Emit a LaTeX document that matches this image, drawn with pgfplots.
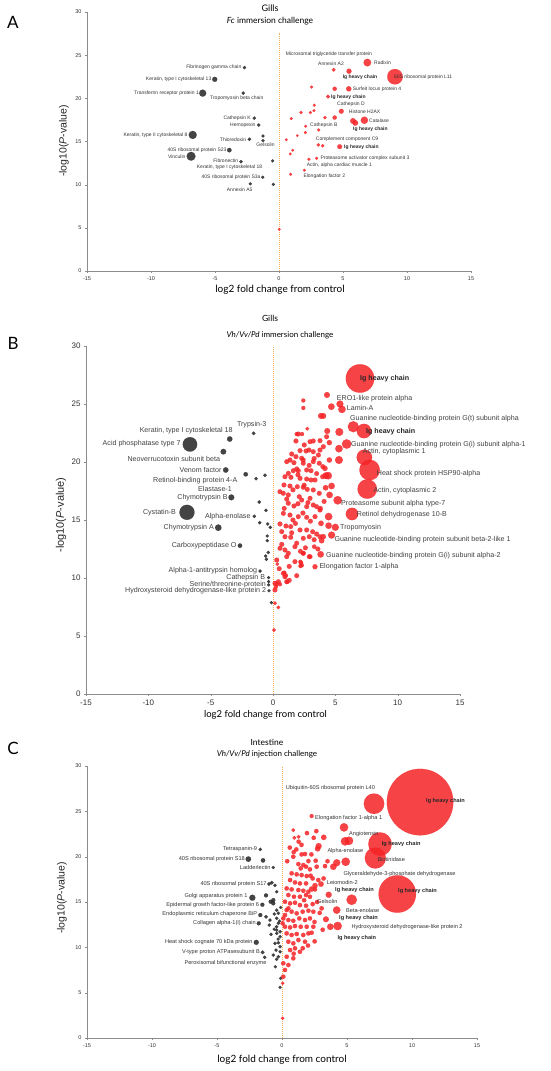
\documentclass[border=0pt]{standalone}
\usepackage{fontspec}
\setmainfont{Liberation Sans}
\newfontfamily\tf{Lato}
\usepackage{pgfplots}
\pgfplotsset{compat=1.18}
\definecolor{pred}{RGB}{244,34,38}
\definecolor{pblk}{RGB}{35,35,35}
\definecolor{dashcol}{RGB}{245,175,95}

\pgfplotsset{
  vol/.style={scale only axis, anchor=south west,
    xmin=-15, xmax=15, ymin=0, ymax=30,
    axis x line*=bottom, axis y line*=left,
    xtick={-15,-10,...,15}, ytick={0,5,...,30},
    tick align=outside, major tick length=2pt,
    axis line style={black!45, line width=0.8pt},
    tick style={black!45},
    /pgf/number format/assume math mode=true,
    tick label style={text=black!80},
    clip=false},
  bub/.style={scatter, only marks, mark=*,
    visualization depends on={\thisrow{r}\as\rr},
    scatter/@pre marker code/.code={\pgfmathsetmacro\rrr{\rr+0.2}\scope[/tikz/mark size=\rrr, /tikz/color=#1, /tikz/opacity=0.85, /tikz/line width=0.1pt]},
    scatter/@post marker code/.code={\endscope}},
}
\tikzset{
  la/.style={font=\fontsize{5}{6}\selectfont, text=black!80},
  lab/.style={font=\fontsize{5}{6}\selectfont\bfseries, text=black!85},
  lb/.style={font=\fontsize{7.1}{8}\selectfont, text=black!75},
  lbb/.style={font=\fontsize{7.1}{8}\selectfont\bfseries, text=black!85},
  lc/.style={font=\fontsize{5.6}{6.5}\selectfont, text=black!80},
  lcb/.style={font=\fontsize{5.6}{6.5}\selectfont\bfseries, text=black!85},
  dl/.style={draw=dashcol, line width=0.7pt, dash pattern=on 1.2pt off 0.8pt},
}
\newcommand\T[4][]{\node[inner sep=0pt,#1] at (#2pt,{(1071-#3)*1pt}) {#4};}

\begin{document}
\begin{tikzpicture}
\useasboundingbox (0,0) rectangle (550pt,1071pt);

% ---------------- A ----------------
\begin{axis}[vol, at={(87pt,800pt)}, width=384pt, height=259pt,
  tick label style={font=\fontsize{5.5}{6}\selectfont}]
\draw[dl] (axis cs:0,0) -- (axis cs:0,27.6);
\addplot[bub=pblk] table[row sep=\\]{x y r\\
-2.7 23.56 1.5\\ -5.02 22.2 2.3\\ -5.96 20.6 3.3\\ -2.79 20.6 1.5\\ -1.93 17.7 1.5\\
-1.59 16.9 1.5\\ -6.74 15.76 3.8\\ -2.32 15.26 1.5\\ -1.25 15.64 1.4\\ -1.25 15.1 1.4\\
-3.88 14.0 2.0\\ -6.87 13.29 4.2\\ -2.97 12.67 1.5\\ -0.5 12.75 1.4\\ -1.27 10.85 1.4\\
-2.24 10.1 1.4\\ -0.44 10.04 1.4\\
};
\addplot[bub=pred] table[row sep=\\]{x y r\\
6.9 24.14 3.6\\ 4.27 23.3 1.7\\ 5.47 23.14 2.3\\ 9.06 22.5 7.5\\ 2.55 21.3 1.3\\
4.35 21.1 1.9\\ 5.45 21.1 2.4\\ 3.83 20.2 1.7\\ 2.76 19.2 1.3\\ 4.87 18.5 2.2\\
1.72 18.35 1.4\\ 2.73 18.57 1.3\\ 2.45 18.35 1.3\\ 0.96 17.65 1.3\\ 3.59 17.77 1.5\\
4.35 17.77 1.9\\ 5.78 17.38 2.6\\ 5.96 17.15 2.6\\ 6.67 17.46 3.4\\ 2.08 16.77 1.3\\
3.1 16.34 1.4\\ 2.06 16.03 1.3\\ 0.57 15.2 1.2\\ 1.43 15.68 1.1\\ 3.07 14.6 1.5\\
3.41 14.5 1.5\\ 4.74 14.4 2.2\\ 1.07 13.98 1.2\\ 0.88 13.56 1.2\\ 2.34 12.94 1.3\\
2.94 13.05 1.3\\ 1.98 11.67 1.3\\ 0.91 11.2 1.3\\ 0.02 4.83 1.2\\
};
\end{axis}

% ---------------- B ----------------
\begin{axis}[vol, at={(86pt,377pt)}, width=374pt, height=348pt,
  tick label style={font=\fontsize{8}{9}\selectfont}]
\draw[dl] (axis cs:0,0) -- (axis cs:0,30);
\addplot[bub=pblk] table[row sep=\\]{x y r\\
-1.55 22.47 1.6\\ -3.47 21.98 2.5\\ -6.66 21.52 7\\ -3.98 20.89 2.6\\ -3.79 19.31 2.5\\
-2.19 18.94 2\\ -0.64 18.85 1.6\\ -1.36 18.56 1.5\\ -3.34 16.95 2.7\\ -1.1 16.55 1.6\\
-6.9 15.66 7.3\\ -0.56 15.83 1.5\\ -1.5 15.32 1.5\\ -4.39 14.34 3\\ -1.07 14.77 1.5\\
-0.43 14.66 1.5\\ -0.22 14.37 1.5\\ -0.46 13.62 1.4\\ -0.46 13.22 1.4\\ -2.65 12.79 2\\
-0.38 12.2 1.5\\ -0.59 11.9 1.5\\ -0.53 11.61 1.5\\ -1.04 10.6 1.5\\ -0.35 10.03 1.4\\
-0.35 9.68 1.4\\ -0.35 9.4 1.4\\ -0.32 8.9 1.4\\ -0.13 7.87 1.4\\
};
\addplot[bub=pred] table[row sep=\\]{x y r\\
2.03 22.41 2.2\\ 1.84 21.81 2.2\\ 2.97 21.75 2.2\\ 3.23 21.81 2.2\\ 3.77 21.84 2.2\\
2.51 21.47 2.2\\ 2.89 21.03 2.2\\ 2.17 20.98 2.2\\ 2.65 20.95 2.2\\ 3.23 20.89 2.2\\
3.77 21.03 2.2\\ 4.04 21.32 2.2\\ 4.52 21.67 2.4\\ 1.5 20.69 2.2\\ 1.84 20.46 2.2\\
2.3 20.32 2.2\\ 3.64 20.6 2.2\\ 1.36 20.17 2.2\\ 1.1 20.03 2.2\\ 1.68 19.94 2.2\\
2.43 19.89 2.2\\ 3.23 20.03 2.2\\ 3.71 19.89 2.2\\ 4.52 20.17 2.4\\ 4.17 19.45 2.4\\
1.63 19.25 2.2\\ 2.03 19.25 2.2\\ 2.7 19.31 2.2\\ 3.05 19.25 2.2\\ 1.23 19.02 2.2\\
0.96 18.73 2.2\\ 1.44 18.68 2.2\\ 2.17 18.59 2.2\\ 2.7 18.53 2.2\\ 3.05 18.45 2.2\\
3.37 18.45 2.2\\ 3.98 18.73 2.2\\ 0.88 18.02 2.2\\ 1.36 17.93 2.2\\ 1.95 17.87 2.2\\
2.43 17.82 2.2\\ 2.75 17.64 2.2\\ 3.23 17.59 2.2\\ 3.71 17.3 2.2\\ 0.56 17.44 2.2\\
0.83 17.3 2.2\\ 1.23 17.16 2.2\\ 2.11 17.01 2.2\\ 2.3 16.72 2.2\\ 2.97 16.87 2.2\\
3.23 16.29 2.2\\ 1.23 16.44 2.2\\ 1.68 16.21 2.2\\ 2.7 16.15 2.2\\ 3.5 16.15 2.2\\
3.77 15.86 2.2\\ 0.83 15.57 2.2\\ 1.36 15.43 2.2\\ 2.03 15.29 2.2\\ 2.7 15.23 2.2\\
3.37 15.29 2.2\\ 0.56 14.66 2.2\\ 1.04 14.48 2.2\\ 1.42 14.43 2.2\\ 2.17 14.14 2.2\\
2.7 14.14 2.2\\ 3.18 13.99 2.2\\ 3.5 13.79 2.2\\ 0.96 13.56 2.2\\ 1.42 13.51 2.2\\
2.43 13.42 2.2\\ 2.91 13.56 2.2\\ 3.77 13.56 2.2\\ 0.56 12.56 2.2\\ 0.96 12.41 2.2\\
1.76 12.7 2.2\\ 1.23 12.13 2.2\\ 2.43 12.13 2.2\\ 2.91 11.84 2.2\\ 1.1 11.84 2.2\\
0.3 11.55 2.2\\ 1.76 11.41 2.2\\ 0.83 10.4 2.2\\ 0.96 10.11 2.2\\ 0.16 9.54 2.2\\
0.43 9.68 2.2\\ 1.1 9.68 2.2\\ 0.16 8.97 2.2\\ 2.43 20.17 2.2\\ 4.3 22.18 2.2\\
1.6 15.0 2.2\\ 2.4 15.6 2.2\\ 3.0 14.9 2.2\\ 1.9 13.0 2.2\\ 2.6 12.6 2.2\\
3.3 13.3 2.2\\ 1.3 11.0 2.2\\ 1.9 10.2 2.2\\ 0.7 12.9 2.2\\ 1.6 17.6 2.2\\
2.5 18.0 2.2\\ 3.5 19.0 2.2\\ 2.9 19.7 2.2\\ 1.1 16.8 2.2\\ 2.0 16.4 2.2\\
3.8 16.0 2.2\\ 4.1 16.6 2.2\\ 0.7 14.0 2.2\\ 1.5 13.9 2.2\\ 2.2 12.3 2.2\\
3.6 12.5 2.2\\ 1.9 19.4 2.2\\ 3.3 20.3 2.2\\ 4.0 19.6 2.2\\ 0.5 10.8 2.2\\
1.3 9.8 2.2\\ 2.8 16.5 2.2\\ 1.8 14.7 2.2\\ 0.9 16.0 2.2\\ 2.0 18.9 2.2\\
};
\addplot[bub=pred] table[row sep=\\]{x y r\\
6.98 27.2 14\\ 4.33 25.78 2.7\\ 2.43 25.3 1.8\\ 2.43 24.66 1.8\\ 4.68 24.77 3\\
5.37 25.0 3.3\\ 5.53 24.54 3.5\\ 3.85 23.97 2.7\\ 4.03 23.97 2.7\\ 2.75 22.87 1.7\\
4.35 22.67 2.7\\ 5.32 22.59 3.7\\ 6.44 23.04 5.3\\ 7.3 22.67 7\\ 2.33 22.41 1.8\\
1.9 22.41 1.8\\ 5.91 21.55 4.5\\ 5.29 21.15 3.5\\ 7.33 20.4 7.5\\ 5.29 20.17 3.7\\
7.75 19.31 10\\ 4.43 18.82 3.5\\ 4.25 18.82 3.2\\ 7.56 17.67 9.5\\ 4.7 17.93 3\\
4.22 17.78 2.5\\ 4.54 17.16 3\\ 5.19 16.7 4\\ 6.34 15.52 6\\ 4.46 15.29 3.5\\
3.85 14.71 2.5\\ 4.46 14.51 3\\ 5.0 14.37 3.3\\ 4.7 13.7 3.3\\ 4.03 13.56 2.5\\
3.9 13.22 2.5\\ 3.31 12.7 2\\ 3.82 12.04 3\\ 2.99 11.84 2\\ 2.43 12.13 2\\
3.37 10.97 2.3\\ 2.3 11.1 2\\ 2.24 11.3 2\\ 0.91 10.46 1.8\\ 1.04 10.23 1.8\\
0.3 9.46 1.8\\ 0.56 9.46 1.8\\ 0.24 9.25 1.8\\ 1.15 9.66 1.8\\ 0.16 7.82 1.6\\
0.43 7.47 1.6\\ 0.08 5.52 1.6\\ 0.35 11.2 1.6\\ 2.2 11.4 1.8\\ 2.2 11.03 1.8\\
};
\end{axis}

% ---------------- C ----------------
\begin{axis}[vol, at={(87pt,33pt)}, width=390pt, height=272pt,
  tick label style={font=\fontsize{5.5}{6}\selectfont}]
\draw[dl] (axis cs:0,0) -- (axis cs:0,30);
\addplot[bub=pblk] table[row sep=\\]{x y r\\
-1.67 20.8 1.5\\ -2.59 19.73 2.5\\ -1.46 19.59 2\\ -0.67 18.8 1.4\\ -1.0 16.98 1.6\\
-0.79 17.12 1.6\\ -0.54 16.84 1.5\\ -0.41 16.13 1.4\\ -2.28 15.47 2.8\\ -1.23 15.73 1.8\\
-0.87 15.03 1.8\\ -0.67 15.21 1.8\\ -0.67 14.85 1.8\\ -1.51 14.7 1.8\\ -0.41 14.1 1.5\\
-0.28 13.75 1.5\\ -1.67 13.56 1.8\\ -1.23 13.37 1.7\\ -0.92 13.0 1.5\\ -0.59 13.67 1.5\\
-0.41 13.2 1.5\\ -1.79 12.65 1.8\\ -0.98 12.46 1.5\\ -0.41 12.27 1.5\\ -0.28 12.65 1.5\\
-0.41 11.9 1.5\\ -0.15 11.72 1.5\\ -0.85 11.43 1.5\\ -0.41 11.54 1.5\\ -0.15 11.17 1.5\\
-1.98 10.55 2.3\\ -0.54 10.44 1.5\\ -0.28 10.51 1.5\\ -0.15 10.07 1.5\\ -0.46 9.7 1.5\\
-0.15 9.51 1.5\\ -1.49 9.45 1.7\\ -1.33 8.9 1.5\\ -0.67 9.15 1.5\\ -0.28 8.96 1.5\\
-0.41 8.68 1.5\\ -0.51 7.86 1.4\\ -0.1 6.58 1.4\\ -0.15 5.59 1.4\\ -0.1 14.4 1.4\\
-0.2 12.9 1.4\\ -0.3 10.9 1.4\\ -0.6 12.0 1.4\\
};
\addplot[bub=pred] table[row sep=\\]{x y r\\
1.28 21.65 2\\ 0.87 19.99 2\\ 1.51 20.25 2\\ 1.77 20.29 2\\ 2.26 20.25 2\\
2.03 19.51 2\\ 2.59 19.55 2\\ 1.26 19.18 2\\ 1.64 19.07 2\\ 1.44 18.71 2\\
1.85 18.89 2\\ 2.15 18.6 2\\ 2.67 18.89 2\\ 3.31 18.96 2\\ 0.74 18.16 2\\
1.13 18.05 2\\ 1.51 17.97 2\\ 1.9 17.86 2\\ 2.36 17.6 2\\ 2.79 17.42 2\\
0.62 17.42 2\\ 1.0 17.16 2\\ 1.38 17.05 2\\ 1.85 17.05 2\\ 0.36 16.5 2\\
0.74 16.39 2\\ 1.26 16.32 2\\ 1.64 16.24 2\\ 2.03 16.13 2\\ 2.54 16.39 2\\
0.49 15.77 2\\ 0.92 15.58 2\\ 1.38 15.58 2\\ 1.85 15.77 2\\ 2.15 15.58 2\\
0.23 15.03 2\\ 0.62 14.85 2\\ 1.0 14.92 2\\ 1.38 14.66 2\\ 1.85 14.59 2\\
0.36 14.11 2\\ 0.74 13.93 2\\ 1.13 13.75 2\\ 1.59 13.93 2\\ 2.03 14.04 2\\
2.41 13.93 2\\ 0.1 13.19 2\\ 0.49 13.01 2\\ 0.87 12.93 2\\ 1.33 13.19 2\\
1.77 13.01 2\\ 2.15 13.19 2\\ 0.23 12.27 2\\ 0.62 12.2 2\\ 1.0 12.35 2\\
1.44 12.27 2\\ 1.9 12.27 2\\ 2.41 12.27 2\\ 0.36 11.54 2\\ 0.74 11.36 2\\
1.13 11.47 2\\ 1.64 11.36 2\\ 2.03 11.54 2\\ 0.49 10.62 2\\ 0.87 10.44 2\\
1.26 10.8 2\\ 1.77 10.62 2\\ 0.62 9.7 2\\ 1.0 9.89 2\\ 1.38 9.51 2\\
0.36 8.96 2\\ 0.87 8.79 2\\ 0.1 8.24 2\\ 0.49 8.05 2\\ 0.23 7.5 2\\
0.1 6.76 2\\ 0.49 14.3 2\\ 0.23 13.56 2\\ 0.05 12.65 2\\ 0.6 21.0 2\\
1.1 20.8 2\\ 1.5 21.3 2\\ 0.4 19.5 2\\ 0.9 20.5 2\\ 1.7 15.2 2\\
2.7 15.0 2\\ 2.5 12.8 2\\ 2.9 13.8 2\\ 2.0 10.2 2\\ 1.6 9.9 2\\
0.9 9.3 2\\ 2.2 17.9 2\\ 3.2 17.6 2\\ 3.5 19.5 2\\
};
\addplot[bub=pred] table[row sep=\\]{x y r\\
10.62 26.02 33\\ 7.08 25.84 10\\ 2.28 24.48 1.8\\ 4.77 23.23 4\\ 4.85 21.69 4\\
5.15 21.75 4\\ 7.54 21.39 11.5\\ 7.18 19.85 10.3\\ 4.9 19.44 4\\ 4.21 19.33 3.3\\
3.95 18.89 3\\ 8.87 15.88 18.5\\ 5.36 15.25 5\\ 3.59 15.8 2.8\\ 4.21 14.11 3.5\\
4.28 12.35 4\\ 3.72 12.27 3\\ 3.38 13.09 2.7\\ 2.82 21.17 2.8\\ 2.74 20.87 2.5\\
3.21 22.13 2.5\\ 2.44 22.08 2\\ 2.64 22.82 2\\ 1.92 22.6 2\\ 0.87 22.93 1.7\\
0.95 22.08 1.7\\ 1.28 22.19 1.7\\ 3.0 16.98 2.5\\ 2.54 16.8 2.5\\ 2.28 16.43 2.5\\
2.36 14.77 2\\ 3.05 14.3 2\\ 3.13 11.94 2\\ 2.28 11.61 2\\ 2.51 10.66 2\\
0.05 6.03 1.5\\ 0.05 2.17 1.5\\
};
\end{axis}

% ---------------- titles and axis labels ----------------
\T[font=\tf\fontsize{17}{18}\selectfont]{13}{22}{A}
\T[font=\tf\fontsize{17}{18}\selectfont]{13}{343}{B}
\T[font=\tf\fontsize{17}{18}\selectfont]{13}{748}{C}
\T[font=\tf\fontsize{9}{10}\selectfont]{270}{8.3}{Gills}
\T[font=\tf\fontsize{8.5}{10}\selectfont]{270}{21.3}{\textit{Fc} immersion challenge}
\T[font=\tf\fontsize{8.5}{10}\selectfont]{270}{318}{Gills}
\T[font=\tf\fontsize{8}{10}\selectfont]{280}{335}{\textit{Vh/Vv/Pd} immersion challenge}
\T[font=\tf\fontsize{8.5}{10}\selectfont]{267}{742.3}{Intestine}
\T[font=\tf\fontsize{8}{10}\selectfont]{267}{754.3}{\textit{Vh/Vv/Pd} injection challenge}
\T[font=\tf\fontsize{10}{12}\selectfont]{280}{290}{log2 fold change from control}
\T[font=\tf\fontsize{9.5}{12}\selectfont]{265.5}{715}{log2 fold change from control}
\T[font=\tf\fontsize{10}{12}\selectfont]{282}{1060}{log2 fold change from control}
\T[font=\fontsize{10.5}{12}\selectfont, text=black!85, rotate=90]{64}{141}{-log10(\textit{P}-value)}
\T[font=\fontsize{11}{12}\selectfont, text=black!85, rotate=90]{61}{515}{-log10(\textit{P}-value)}
\T[font=\fontsize{10.5}{12}\selectfont, text=black!85, rotate=90]{62}{898}{-log10(\textit{P}-value)}

% ---------------- A labels ----------------
\T[la,anchor=east]{241.5}{67.7}{Fibrinogen gamma chain}
\T[la,anchor=east]{211.5}{79.3}{Keratin, type I cytoskeletal 13}
\T[la,anchor=east]{199}{93}{Transferrin receptor protein 1}
\T[la,anchor=west]{210}{98.7}{Tropomyosin beta chain}
\T[la,anchor=east]{251}{118}{Cathepsin K}
\T[la,anchor=east]{255.7}{125.3}{Hemopexin}
\T[la,anchor=east]{187.7}{135}{Keratin, type II cytoskeletal 8}
\T[la,anchor=east]{246.3}{139.3}{Thioredoxin}
\T[la]{265.5}{144.7}{Gelsolin}
\T[la,anchor=east]{226.7}{150}{40S ribosomal protein S23}
\T[la,anchor=east]{185.7}{156.3}{Vinculin}
\T[la,anchor=east]{238.3}{160.3}{Fibronectin}
\T[la,anchor=west]{196.7}{167}{Keratin, type I cytoskeletal 18}
\T[la,anchor=east]{260.7}{177}{40S ribosomal protein S3a}
\T[la,anchor=west]{226.7}{189.3}{Annexin A5}
\T[la,anchor=west]{285.7}{54}{Microsomal triglyceride transfer protein}
\T[la]{331}{64}{Annexin A2}
\T[la,anchor=west]{374}{62.7}{Radixin}
\T[la,anchor=west]{394}{77}{60S ribosomal protein L11}
\T[lab]{360}{77.7}{Ig heavy chain}
\T[la,anchor=west]{352.7}{89.7}{Surfeit locus protein 4}
\T[lab,anchor=west]{331}{97.3}{Ig heavy chain}
\T[la]{351}{104.7}{Cathepsin D}
\T[la,anchor=west]{348.7}{112}{Histone H2AX}
\T[la,anchor=west]{369}{120.7}{Catalase}
\T[la,anchor=west]{310}{125.3}{Cathepsin B}
\T[lab,anchor=west]{353}{129.3}{Ig heavy chain}
\T[la,anchor=west]{315.7}{139.7}{Complement component C9}
\T[lab,anchor=west]{344}{147.3}{Ig heavy chain}
\T[la,anchor=west]{320.3}{158.7}{Proteasome activator complex subunit 3}
\T[la,anchor=west]{306.7}{165.3}{Actin, alpha cardiac muscle 1}
\T[la,anchor=west]{303.3}{176}{Elongation factor 2}

% ---------------- B labels ----------------
\T[lb]{251.7}{425}{Trypsin-3}
\T[lb,anchor=east]{232.7}{430.7}{Keratin, type I cytoskeletal 18}
\T[lb,anchor=east]{180.7}{443.7}{Acid phosphatase type 7}
\T[lb]{173.8}{459.3}{Neoverrucotoxin subunit beta}
\T[lb,anchor=east]{221.7}{470}{Venom factor}
\T[lb,anchor=west]{153}{481}{Retinol-binding protein 4-A}
\T[lb]{215}{489.3}{Elastase-1}
\T[lb,anchor=east]{227.7}{497.3}{Chymotrypsin B}
\T[lb,anchor=east]{176}{512.7}{Cystatin-B}
\T[lb,anchor=east]{250.7}{516.7}{Alpha-enolase}
\T[lb,anchor=east]{214}{527.7}{Chymotrypsin A}
\T[lb,anchor=east]{236.7}{545.7}{Carboxypeptidase O}
\T[lb,anchor=east]{257.3}{571}{Alpha-1-antitrypsin homolog}
\T[lb,anchor=east]{265.3}{577.3}{Cathepsin B}
\T[lb,anchor=east]{266}{584.7}{Serine/threonine-protein}
\T[lb,anchor=east]{266.3}{591}{Hydroxysteroid dehydrogenase-like protein 2}
\T[lbb,anchor=west]{360}{378.3}{Ig heavy chain}
\T[lb,anchor=west]{336.7}{398.7}{ERO1-like protein alpha}
\T[lb,anchor=west]{346.7}{408}{Lamin-A}
\T[lb,anchor=west]{350}{418.7}{Guanine nucleotide-binding protein G(t) subunit alpha}
\T[lbb,anchor=west]{366}{431.7}{Ig heavy chain}
\T[lb,anchor=west]{351}{444.7}{Guanine nucleotide-binding protein G(i) subunit alpha-1}
\T[lb,anchor=west]{362.7}{451.3}{Actin, cytoplasmic 1}
\T[lb,anchor=west]{376.7}{473.3}{Heat shock protein HSP90-alpha}
\T[lb,anchor=west]{373.3}{491}{Actin, cytoplasmic 2}
\T[lb,anchor=west]{341}{503.3}{Proteasome subunit alpha type-7}
\T[lb,anchor=west]{356.7}{514.7}{Retinol dehydrogenase 10-B}
\T[lb,anchor=west]{340}{528}{Tropomyosin}
\T[lb,anchor=west]{334.3}{540}{Guanine nucleotide-binding protein subunit beta-2-like 1}
\T[lb,anchor=west]{326}{555.3}{Guanine nucleotide-binding protein G(i) subunit alpha-2}
\T[lb,anchor=west]{319.3}{566.7}{Elongation factor 1-alpha}

% ---------------- C labels ----------------
\T[lc,anchor=east]{257.3}{849.3}{Tetraspanin-9}
\T[lc,anchor=east]{245}{859}{40S ribosomal protein S18}
\T[lc,anchor=east]{270.7}{867.7}{Ladderlectin}
\T[lc,anchor=east]{266.7}{884}{40S ribosomal protein S17}
\T[lc,anchor=east]{247.7}{896}{Golgi apparatus protein 1}
\T[lc,anchor=east]{259.3}{904.7}{Epidermal growth factor-like protein 6}
\T[lc,anchor=east]{257.3}{914}{Endoplasmic reticulum chaperone BiP}
\T[lc,anchor=east]{256}{922.7}{Collagen alpha-1(I) chain}
\T[lc,anchor=east]{252.7}{942.3}{Heat shock cognate 70 kDa protein}
\T[lc,anchor=east]{260}{952.3}{V-type proton ATPasesubunit B}
\T[lc,anchor=east]{266.7}{963.3}{Peroxisomal bifunctional enzyme}
\T[lc,anchor=west]{285.7}{787.7}{Ubiquitin-60S ribosomal protein L40}
\T[lcb,anchor=west]{426}{801}{Ig heavy chain}
\T[lc,anchor=west]{315}{817.7}{Elongation factor 1-alpha 1}
\T[lc,anchor=west]{349}{834}{Angiotensin}
\T[lcb,anchor=west]{381.7}{844.3}{Ig heavy chain}
\T[lc,anchor=west]{327.3}{850.7}{Alpha-enolase}
\T[lc,anchor=west]{377.3}{860}{Biotinidase}
\T[lc,anchor=west]{343.3}{874.3}{Glyceraldehyde-3-phosphate dehydrogenase}
\T[lc,anchor=west]{326.7}{882.7}{Leiomodin-2}
\T[lcb,anchor=west]{335}{890.3}{Ig heavy chain}
\T[lcb,anchor=west]{398}{891}{Ig heavy chain}
\T[lc,anchor=west]{317}{902}{Gelsolin}
\T[lc,anchor=west]{346}{910}{Beta-enolase}
\T[lcb,anchor=west]{339}{918.3}{Ig heavy chain}
\T[lc,anchor=west]{351.3}{926.7}{Hydroxysteroid dehydrogenase-like protein 2}
\T[lcb,anchor=west]{337.3}{937.7}{Ig heavy chain}
\end{tikzpicture}
\end{document}
